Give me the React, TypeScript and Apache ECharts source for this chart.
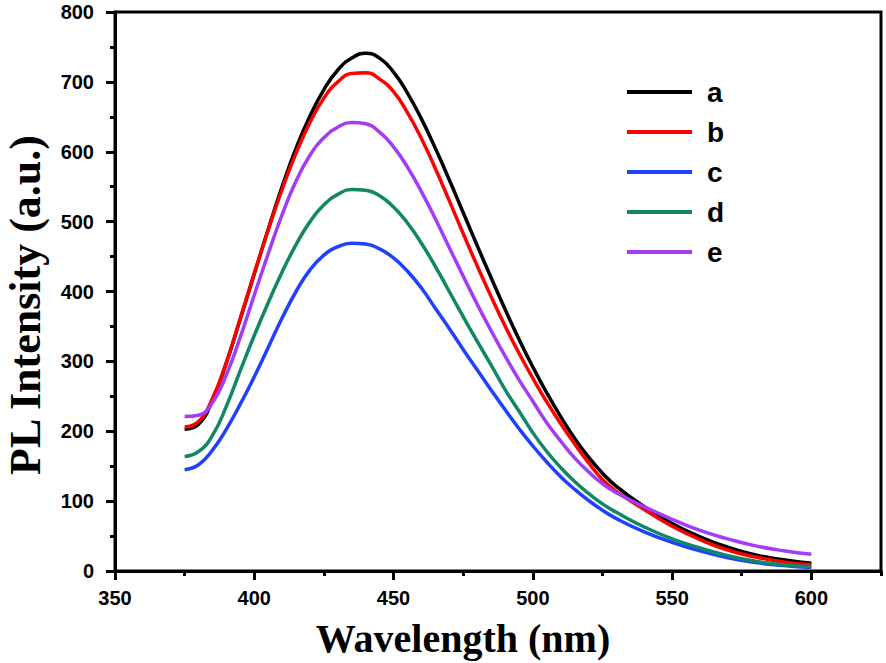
import React, { useEffect, useRef } from 'react';
import * as echarts from 'echarts';

const wavelengths = [375, 380, 385, 390, 395, 400, 405, 410, 415, 420, 425, 430, 435, 440, 445, 450, 455, 460, 465, 470, 475, 480, 485, 490, 495, 500, 505, 510, 515, 520, 525, 530, 540, 550, 560, 570, 580, 590, 600];

const seriesA = [203, 210, 245, 298, 361, 425, 489, 550, 605, 651, 689, 717, 734, 741, 734, 714, 684, 647, 605, 560, 513, 466, 420, 375, 332, 292, 255, 221, 190, 163, 140, 121, 92, 68, 49, 34, 23, 16, 11];
const seriesB = [206, 214, 247, 299, 362, 426, 488, 546, 598, 642, 677, 700, 712, 713, 704, 686, 656, 619, 576, 530, 483, 437, 393, 351, 312, 276, 242, 211, 182, 155, 131, 114, 88, 64, 45, 30, 20, 13, 9];
const seriesC = [145, 152, 173, 203, 239, 278, 320, 362, 400, 431, 452, 464, 469, 468, 461, 448, 429, 405, 376, 347, 317, 288, 259, 231, 204, 179, 156, 135, 117, 101, 87, 75, 56, 41, 29, 19, 12, 8, 5];
const seriesD = [164, 171, 194, 236, 287, 337, 384, 428, 467, 500, 524, 539, 546, 545, 537, 521, 498, 469, 436, 400, 364, 329, 295, 260, 229, 198, 171, 148, 128, 111, 96, 84, 63, 46, 33, 22, 14, 9, 6];
const seriesE = [221, 223, 241, 281, 335, 395, 454, 510, 558, 595, 620, 635, 642, 640, 628, 607, 578, 543, 504, 463, 422, 382, 344, 308, 274, 243, 212, 186, 162, 142, 125, 112, 92, 74, 58, 46, 36, 29, 24];

const seriesNames = ['a', 'b', 'c', 'd', 'e'];
const seriesColors = ['#000000', '#ff0000', '#2040ff', '#128768', '#a23cf6'];

const xMajorTicks = [350, 400, 450, 500, 550, 600];
const xMinorTicks = [375, 425, 475, 525, 575, 625];

const xTitle = 'Wavelength (nm)';
const yTitle = 'PL Intensity (a.u.)';

export default function App() {
  const ref = useRef<HTMLDivElement>(null);

  useEffect(() => {
    document.body.style.margin = '0';
    const chart = echarts.init(ref.current as HTMLDivElement, null, { renderer: 'svg' });
    const values = [seriesA, seriesB, seriesC, seriesD, seriesE];
    const labelFont = {
      color: '#000',
      fontSize: 20,
      fontWeight: 'bold' as const,
      fontFamily: '"Liberation Sans", Arial, sans-serif',
    };
    const tickStyle = { color: '#000', width: 3 };

    chart.setOption({
      animation: false,
      backgroundColor: '#ffffff',
      grid: {
        left: 115,
        right: 5,
        top: 12,
        bottom: 92,
        show: true,
        borderColor: '#000',
        borderWidth: 3,
        backgroundColor: 'transparent',
      },
      legend: {
        orient: 'vertical',
        left: 622,
        top: 73,
        itemWidth: 65,
        itemHeight: 4,
        itemGap: 12,
        icon: 'rect',
        data: seriesNames,
        textStyle: {
          color: '#000',
          fontSize: 28,
          lineHeight: 28,
          fontWeight: 'bold',
          fontFamily: '"Liberation Sans", Arial, sans-serif',
          padding: [0, 0, 0, 10],
        },
      },
      xAxis: [
        {
          type: 'value',
          min: 350,
          max: 625,
          interval: 50,
          axisLine: { show: true, onZero: false, lineStyle: tickStyle },
          axisTick: { show: true, length: 9, lineStyle: tickStyle, customValues: xMajorTicks },
          axisLabel: { ...labelFont, margin: 17, customValues: xMajorTicks },
          splitLine: { show: false },
        },
        {
          type: 'value',
          min: 350,
          max: 625,
          position: 'bottom',
          axisLine: { show: false },
          axisTick: { show: true, length: 5, lineStyle: tickStyle, customValues: xMinorTicks },
          axisLabel: { show: false },
          splitLine: { show: false },
        },
      ],
      yAxis: {
        type: 'value',
        min: 0,
        max: 800,
        interval: 100,
        axisLine: { show: true, onZero: false, lineStyle: tickStyle },
        axisTick: { show: true, length: 9, lineStyle: tickStyle },
        minorTick: { show: true, splitNumber: 2, length: 5, lineStyle: tickStyle },
        axisLabel: { ...labelFont, margin: 21 },
        splitLine: { show: false },
        minorSplitLine: { show: false },
      },
      series: seriesNames.map((name, i) => ({
        name,
        type: 'line',
        xAxisIndex: 0,
        data: wavelengths.map((w, j) => [w, values[i][j]]),
        smooth: true,
        symbol: 'none',
        showSymbol: false,
        lineStyle: { color: seriesColors[i], width: 3.5 },
        itemStyle: { color: seriesColors[i] },
      })),
      graphic: [
        {
          type: 'text',
          x: 463,
          y: 638,
          style: {
            text: xTitle,
            fill: '#000',
            font: 'bold 40px "Liberation Serif", "Times New Roman", serif',
            textAlign: 'center',
            textVerticalAlign: 'middle',
          },
        },
        {
          type: 'text',
          x: 25,
          y: 305,
          rotation: Math.PI / 2,
          style: {
            text: yTitle,
            fill: '#000',
            font: 'bold 44px "Liberation Serif", "Times New Roman", serif',
            textAlign: 'center',
            textVerticalAlign: 'middle',
          },
        },
      ],
    });

    return () => chart.dispose();
  }, []);

  return <div ref={ref} style={{ width: 886, height: 663 }} />;
}
